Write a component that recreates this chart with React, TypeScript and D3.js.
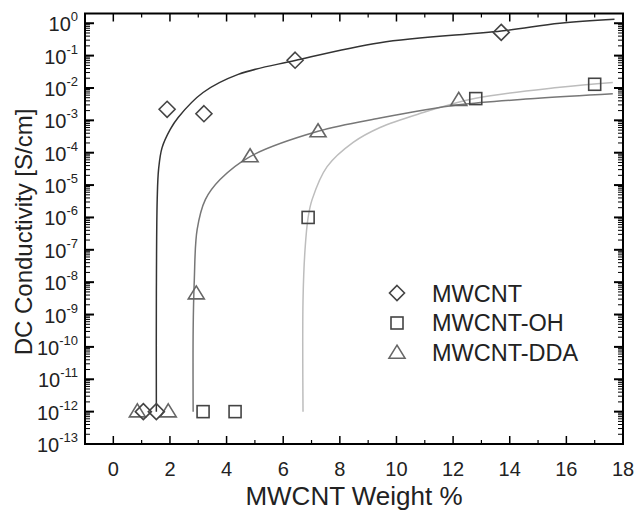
import * as d3 from 'd3'

// measured points (x = weight %, y = conductivity S/cm)
const mwcntX = [1.06, 1.52, 1.9, 3.2, 6.42, 13.7]
const mwcntY = [1e-12, 1e-12, 2.2e-3, 1.6e-3, 0.072, 0.52]

const ohX = [3.17, 4.3, 6.88, 12.8, 17.0]
const ohY = [1e-12, 1e-12, 1e-6, 4.7e-3, 1.3e-2]

const ddaX = [0.85, 1.94, 2.93, 4.83, 7.23, 12.2]
const ddaY = [1e-12, 1e-12, 4.4e-9, 7.6e-5, 4.5e-4, 4.2e-3]

// fit curves (log10 of conductivity)
const mwcntFitX = [1.52, 1.52, 1.55, 1.6, 1.72, 2.01, 2.29, 3.17, 4.41, 6.42, 9.42, 13.7, 15.77, 17.7]
const mwcntFitLog = [-12.0, -8.5, -5.45, -4.5, -3.85, -3.28, -2.91, -2.14, -1.58, -1.15, -0.6, -0.24, 0.0, 0.12]

const ddaFitX = [2.82, 2.82, 2.86, 2.96, 3.25, 3.77, 4.83, 7.23, 9.42, 12.2, 15.0, 17.64]
const ddaFitLog = [-12.0, -9.47, -7.93, -6.38, -5.45, -4.83, -4.12, -3.34, -2.93, -2.52, -2.32, -2.18]

const ohFitX = [6.7, 6.7, 6.77, 6.88, 7.02, 7.55, 8.47, 9.42, 10.83, 12.8, 15.77, 17.64]
const ohFitLog = [-12.0, -8.54, -7.0, -6.0, -5.45, -4.43, -3.68, -3.22, -2.79, -2.32, -1.98, -1.83]

const xTicks = [0, 2, 4, 6, 8, 10, 12, 14, 16, 18]
const xMinor = [-1, 1, 3, 5, 7, 9, 11, 13, 15, 17]
const yExps = [0, -1, -2, -3, -4, -5, -6, -7, -8, -9, -10, -11, -12, -13]

const legendNames = ['MWCNT', 'MWCNT-OH', 'MWCNT-DDA']

const W = 637
const H = 513
const left = 85, right = 623, top = 13.5, bottom = 444

const x = d3.scaleLinear().domain([-1, 18]).range([left, right])
const y = d3.scaleLog().domain([1e-13, 2]).range([bottom, top])

const font = 'Liberation Sans, Arial, sans-serif'
const textCol = '#222'

function Diamond({ cx, cy, r = 8 }: { cx: number; cy: number; r?: number }) {
  return <path d={`M${cx},${cy - r}L${cx + r},${cy}L${cx},${cy + r}L${cx - r},${cy}Z`} fill="none" stroke="#444" strokeWidth={1.6} />
}
function Square({ cx, cy, r = 6 }: { cx: number; cy: number; r?: number }) {
  return <rect x={cx - r} y={cy - r} width={2 * r} height={2 * r} fill="none" stroke="#444" strokeWidth={1.6} />
}
function Triangle({ cx, cy }: { cx: number; cy: number }) {
  const w = 8, h = 13
  return <path d={`M${cx},${cy - h * 0.6}L${cx + w},${cy + h * 0.4}L${cx - w},${cy + h * 0.4}Z`} fill="none" stroke="#666" strokeWidth={1.6} />
}

export default function App() {
  const line = d3.line<[number, number]>()
    .x((d) => x(d[0]))
    .y((d) => y(Math.pow(10, d[1])))
    .curve(d3.curveCatmullRom.alpha(0.5))

  const fit = (xs: number[], ls: number[]) => line(xs.map((v, i) => [v, ls[i]] as [number, number]))!

  // minor log ticks
  const minorY: number[] = []
  for (let e = -13; e <= 0; e++) {
    for (let k = 2; k <= 9; k++) {
      const v = k * Math.pow(10, e)
      if (v <= 2) minorY.push(v)
    }
  }

  return (
    <svg width={W} height={H} style={{ position: 'absolute', left: 0, top: 0 }}>
      <rect width={W} height={H} fill="#fff" />

      {/* fit curves */}
      <path d={fit(ohFitX, ohFitLog)} fill="none" stroke="#bdbdbd" strokeWidth={1.5} />
      <path d={fit(ddaFitX, ddaFitLog)} fill="none" stroke="#777" strokeWidth={1.5} />
      <path d={fit(mwcntFitX, mwcntFitLog)} fill="none" stroke="#333" strokeWidth={1.5} />

      {/* markers */}
      {ddaX.map((v, i) => <Triangle key={'t' + i} cx={x(v)} cy={y(ddaY[i])} />)}
      {mwcntX.map((v, i) => <Diamond key={'d' + i} cx={x(v)} cy={y(mwcntY[i])} />)}
      {ohX.map((v, i) => <Square key={'s' + i} cx={x(v)} cy={y(ohY[i])} />)}

      {/* x ticks bottom and top */}
      {xTicks.map((t) => (
        <g key={'xt' + t}>
          <line x1={x(t)} x2={x(t)} y1={bottom} y2={bottom - 8} stroke="#000" strokeWidth={1.5} />
          <line x1={x(t)} x2={x(t)} y1={top} y2={top + 8} stroke="#000" strokeWidth={1.5} />
          <text x={x(t)} y={476} textAnchor="middle" fontFamily={font} fontSize={20} fill={textCol}>{t}</text>
        </g>
      ))}
      {xMinor.map((t) => (
        <g key={'xm' + t}>
          <line x1={x(t)} x2={x(t)} y1={bottom} y2={bottom - 4} stroke="#000" strokeWidth={1.2} />
          <line x1={x(t)} x2={x(t)} y1={top} y2={top + 4} stroke="#000" strokeWidth={1.2} />
        </g>
      ))}

      {/* y ticks left and right */}
      {yExps.map((e) => {
        const py = y(Math.pow(10, e))
        return (
          <g key={'ye' + e}>
            <line x1={left} x2={left + 9} y1={py} y2={py} stroke="#000" strokeWidth={2} />
            <line x1={right} x2={right - 9} y1={py} y2={py} stroke="#000" strokeWidth={2} />
            <text x={78} y={py + 8} textAnchor="end" fontFamily={font} fontSize={20} fill={textCol}>
              10<tspan dy={-10} fontSize={13}>{e}</tspan>
            </text>
          </g>
        )
      })}
      {minorY.map((v, i) => {
        const py = y(v)
        return (
          <g key={'ym' + i}>
            <line x1={left} x2={left + 5} y1={py} y2={py} stroke="#000" strokeWidth={1} />
            <line x1={right} x2={right - 5} y1={py} y2={py} stroke="#000" strokeWidth={1} />
          </g>
        )
      })}

      {/* frame */}
      <rect x={left} y={top} width={right - left} height={bottom - top} fill="none" stroke="#000" strokeWidth={2} />

      {/* legend */}
      <Diamond cx={397} cy={293} r={7.5} />
      <Square cx={397} cy={323} />
      <Triangle cx={397} cy={353} />
      {legendNames.map((n, i) => (
        <text key={n} x={432} y={301.5 + i * 29.5} fontFamily={font} fontSize={23.5} fill={textCol}>{n}</text>
      ))}

      {/* axis titles */}
      <text x={354} y={505} textAnchor="middle" fontFamily={font} fontSize={26} fill={textCol}>MWCNT Weight %</text>
      <text transform={`translate(32,232) rotate(-90)`} textAnchor="middle" fontFamily={font} fontSize={24} fill={textCol}>DC Conductivity [S/cm]</text>
    </svg>
  )
}
